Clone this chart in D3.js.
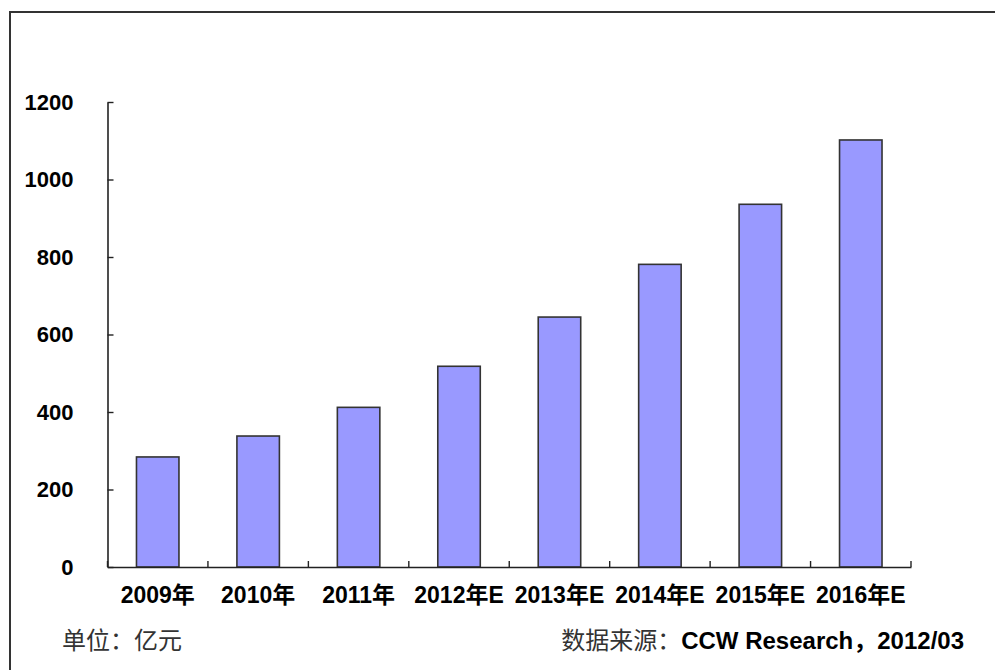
<!DOCTYPE html>
<html>
<head>
<meta charset="utf-8">
<script src="https://cdn.jsdelivr.net/npm/d3@7"></script>
<style>
  html, body { margin: 0; padding: 0; background: #fff; }
  svg { display: block; }
  text { font-family: "Liberation Sans", Arial, "Noto Sans CJK SC", sans-serif; }
</style>
</head>
<body>
<svg id="chart" width="995" height="670"></svg>
<script>
// Market size by year (unit: 亿元); E = estimate
const categories = ["2009年", "2010年", "2011年", "2012年E", "2013年E", "2014年E", "2015年E", "2016年E"];
const values = [284, 338, 412, 518, 645, 781, 936, 1102];
const yTicks = [0, 200, 400, 600, 800, 1000, 1200];
const unitLabel = "单位：亿元";
const sourcePrefix = "数据来源：";
const sourceText = "CCW Research，2012/03";

const svg = d3.select("#chart");

// outer frame (open to the right and bottom)
svg.append("rect")
  .attr("x", 10).attr("y", 12)
  .attr("width", 1000).attr("height", 700)
  .attr("fill", "none")
  .attr("stroke", "#333")
  .attr("stroke-width", 2);

const plot = { left: 107.5, right: 911, top: 102, bottom: 567 };

const x = d3.scaleBand()
  .domain(categories)
  .range([plot.left, plot.right])
  .paddingInner(0.577)
  .paddingOuter(0.577 / 2);

const y = d3.scaleLinear()
  .domain([0, 1200])
  .range([plot.bottom, plot.top]);

// bars
svg.append("g").selectAll("rect")
  .data(values)
  .join("rect")
  .attr("x", (d, i) => x(categories[i]))
  .attr("y", d => y(d))
  .attr("width", x.bandwidth())
  .attr("height", d => y(0) - y(d))
  .attr("fill", "#9999ff")
  .attr("stroke", "#333")
  .attr("stroke-width", 1.6);

// y axis
const yAxis = svg.append("g")
  .attr("transform", `translate(${plot.left},0)`)
  .call(d3.axisLeft(y).tickValues(yTicks).tickFormat(d3.format("d"))
    .tickSizeInner(-6).tickSizeOuter(0).tickPadding(34));
yAxis.select(".domain").attr("stroke", "#222").attr("stroke-width", 1.6);
yAxis.selectAll(".tick line").attr("stroke", "#222").attr("stroke-width", 1.4);
yAxis.selectAll(".tick text")
  .attr("font-size", 22)
  .attr("font-weight", "bold")
  .attr("fill", "#000");

// x axis
const xAxis = svg.append("g")
  .attr("transform", `translate(0,${plot.bottom})`)
  .call(d3.axisBottom(x).tickSize(0).tickPadding(20));
xAxis.select(".domain").attr("stroke", "#222").attr("stroke-width", 1.6);
xAxis.selectAll(".tick text")
  .attr("font-size", 23)
  .attr("font-weight", "bold")
  .attr("fill", "#000");

// category boundary ticks pointing up into the plot
const step = x.step();
const boundaries = d3.range(categories.length + 1).map(i => plot.left + i * step);
xAxis.append("g").selectAll("line")
  .data(boundaries)
  .join("line")
  .attr("x1", d => d).attr("x2", d => d)
  .attr("y1", 0).attr("y2", -6)
  .attr("stroke", "#222")
  .attr("stroke-width", 1.4);

// footer notes
svg.append("text")
  .attr("x", 62).attr("y", 649)
  .attr("font-size", 24)
  .attr("fill", "#333")
  .text(unitLabel);

const src = svg.append("text")
  .attr("x", 964).attr("y", 649)
  .attr("text-anchor", "end")
  .attr("font-size", 24);
src.append("tspan").attr("fill", "#333").text(sourcePrefix);
src.append("tspan").attr("fill", "#000").attr("font-weight", "bold").text(sourceText);
</script>
</body>
</html>
